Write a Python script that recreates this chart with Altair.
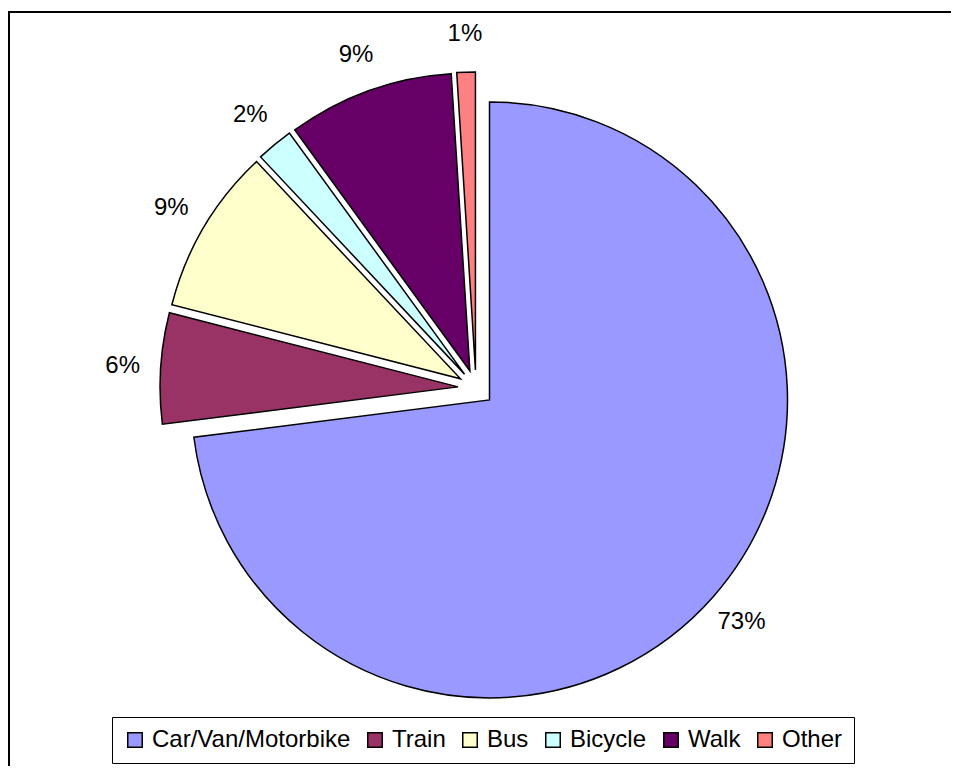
import altair as alt
import pandas as pd

# ---- data ----
categories = ["Car/Van/Motorbike", "Train", "Bus", "Bicycle", "Walk", "Other"]
shares = [73, 6, 9, 2, 9, 1]
colors = ["#9999FF", "#993366", "#FFFFCC", "#CCFFFF", "#660066", "#FF8080"]

# ---- layout (styles) ----
W, H = 943, 758
CX, CY = 468, 380      # pie centre in view coordinates
R = 298                # pie radius
EXPLODE = 18           # explode distance of each slice
LABEL_R = 336          # label distance from a slice vertex
FONT = "Liberation Sans"

df = pd.DataFrame({"cat": categories, "share": shares, "order": list(range(len(categories)))})

base = (
    alt.Chart(df)
    .transform_window(cum="sum(share)", sort=[alt.SortField("order", order="ascending")], frame=[None, 0])
    .transform_joinaggregate(total="sum(share)")
    .transform_calculate(t1="2*PI*datum.cum/datum.total")
    .transform_calculate(t0="2*PI*(datum.cum-datum.share)/datum.total")
    .transform_calculate(mid="(datum.t0+datum.t1)/2")
    .transform_calculate(
        px=f"{CX} + {EXPLODE}*sin(datum.mid)",
        py=f"{CY} - {EXPLODE}*cos(datum.mid)",
        label="format(datum.share/datum.total, '.0%')",
    )
)

legend = alt.Legend(
    title=None,
    orient="none",
    legendX=104,
    legendY=709,
    direction="horizontal",
    strokeColor="black",
    padding=11,
    symbolType="square",
    symbolSize=210,
    symbolStrokeColor="black",
    symbolStrokeWidth=1.5,
    symbolOpacity=1,
    labelFont=FONT,
    labelFontSize=24,
    labelColor="black",
    labelOffset=5,
    labelLimit=400,
    columnPadding=12,
)

arcs = base.mark_arc(radius=R, stroke="black", strokeWidth=1.5, opacity=1).encode(
    theta=alt.Theta("t0:Q", scale=None, stack=False),
    theta2="t1:Q",
    x=alt.X("px:Q", scale=None, axis=None),
    y=alt.Y("py:Q", scale=None, axis=None),
    color=alt.Color("cat:N", scale=alt.Scale(domain=categories, range=colors), sort=categories, legend=legend),
)

labels = base.mark_text(radius=LABEL_R, font=FONT, fontSize=24, color="black").encode(
    theta=alt.Theta("mid:Q", scale=None, stack=False),
    x=alt.X("px:Q", scale=None, axis=None),
    y=alt.Y("py:Q", scale=None, axis=None),
    text="label:N",
)

# outer chart frame (decoration): left edge and top edge as one polyline
frame_pts = pd.DataFrame({"fx": [1, 1, W + 100], "fy": [H + 20, 4, 4], "k": [0, 1, 2]})
frame = alt.Chart(frame_pts).mark_line(color="black", strokeWidth=2).encode(
    x=alt.X("fx:Q", scale=None, axis=None),
    y=alt.Y("fy:Q", scale=None, axis=None),
    order="k:Q",
)

chart = (
    alt.layer(frame, arcs, labels)
    .properties(width=W, height=H, autosize=alt.AutoSizeParams(type="none"), padding=0)
    .configure_view(strokeWidth=0, stroke="transparent", fill="white")
)

chart.save("out.html", embed_options={"renderer": "svg", "actions": False})
